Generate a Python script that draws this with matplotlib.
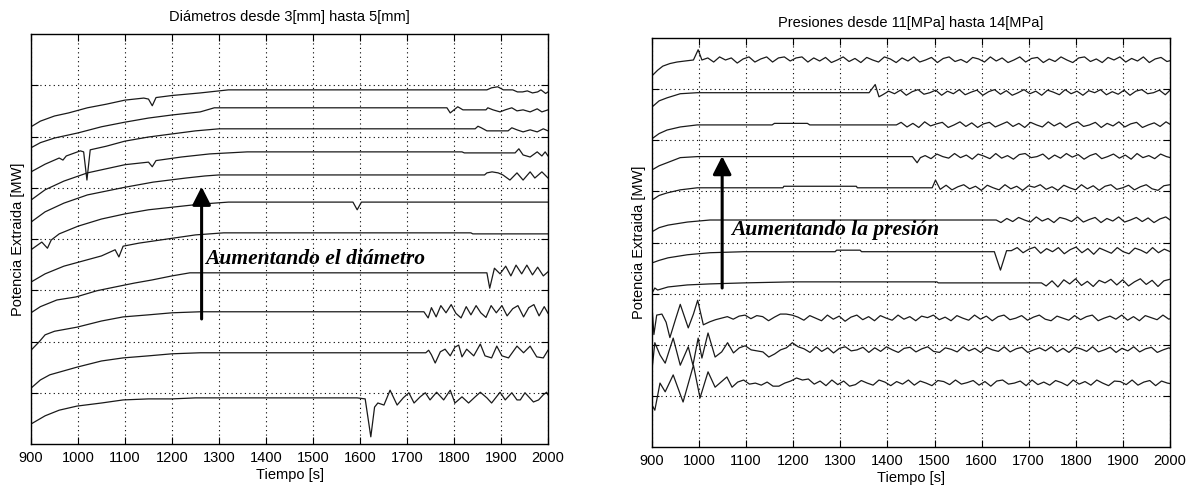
import numpy as np
import matplotlib.pyplot as plt

# ---------------- left panel: diameters 3 mm .. 5 mm (top curve = largest) ----------------
# time [s] and extracted power (arbitrary units, one grid step = 1)
d1_t = [900, 920, 950, 980, 1020, 1060, 1100, 1140, 1150, 1158, 1166, 1200, 1260, 1320, 1870,
        1880, 1893, 1905, 1925, 1935, 1946, 1956, 1967, 1978, 1985, 1995, 2000]
d1_p = [6.19, 6.30, 6.40, 6.46, 6.56, 6.63, 6.71, 6.75, 6.73, 6.60, 6.76, 6.80, 6.85, 6.91, 6.91,
        6.95, 6.97, 6.91, 6.91, 6.87, 6.87, 6.89, 6.85, 6.87, 6.91, 6.84, 6.87]

d2_t = [900, 920, 950, 1000, 1050, 1100, 1150, 1200, 1260, 1290, 1785, 1792, 1808, 1819, 1868,
        1872, 1883, 1898, 1909, 1923, 1934, 1947, 1962, 1977, 1987, 2000]
d2_p = [5.78, 5.88, 5.97, 6.07, 6.19, 6.28, 6.36, 6.42, 6.48, 6.56, 6.56, 6.46, 6.58, 6.52, 6.52,
        6.56, 6.52, 6.48, 6.52, 6.56, 6.50, 6.52, 6.48, 6.54, 6.48, 6.52]

d3_t = [900, 930, 960, 968, 975, 1005, 1012, 1019, 1026, 1060, 1100, 1150, 1200, 1250, 1300,
        1845, 1851, 1858, 1870, 1915, 1923, 1934, 1947, 1962, 1977, 1990, 2000]
d3_p = [5.31, 5.46, 5.58, 5.54, 5.62, 5.72, 5.70, 5.15, 5.74, 5.81, 5.91, 5.99, 6.05, 6.11, 6.15,
        6.15, 6.20, 6.17, 6.11, 6.11, 6.17, 6.13, 6.09, 6.13, 6.09, 6.15, 6.11]

d4_t = [900, 930, 970, 1020, 1100, 1150, 1158, 1166, 1220, 1280, 1360, 1817, 1822, 1930, 1938,
        1947, 1962, 1977, 1987, 1994, 2000]
d4_p = [4.76, 4.96, 5.13, 5.29, 5.45, 5.50, 5.41, 5.53, 5.60, 5.66, 5.70, 5.70, 5.68, 5.68, 5.76,
        5.64, 5.60, 5.70, 5.62, 5.70, 5.62]

d5_t = [900, 930, 970, 1020, 1100, 1160, 1230, 1270, 1300, 1865, 1870, 1881, 1894, 1904, 1919,
        1934, 1947, 1962, 1972, 1987, 2000]
d5_p = [4.33, 4.53, 4.70, 4.86, 5.01, 5.11, 5.19, 5.23, 5.25, 5.25, 5.29, 5.31, 5.29, 5.25, 5.15,
        5.29, 5.15, 5.31, 5.19, 5.31, 5.19]

d6_t = [900, 923, 935, 943, 960, 1000, 1050, 1100, 1150, 1200, 1260, 1320, 1585, 1594, 1603, 2000]
d6_p = [3.79, 3.94, 3.82, 3.98, 4.10, 4.25, 4.39, 4.49, 4.57, 4.62, 4.68, 4.72, 4.72, 4.57, 4.72, 4.72]

d7_t = [900, 930, 970, 1010, 1050, 1079, 1087, 1096, 1130, 1190, 1250, 1310, 1836, 1840, 2000]
d7_p = [3.16, 3.32, 3.47, 3.57, 3.67, 3.79, 3.65, 3.86, 3.92, 4.00, 4.08, 4.12, 4.12, 4.10, 4.10]

d8_t = [900, 920, 955, 996, 1040, 1077, 1120, 1157, 1200, 1238, 1870, 1876, 1886, 1898, 1910,
        1921, 1932, 1944, 1955, 1967, 1978, 1990, 2000]
d8_p = [2.56, 2.68, 2.81, 2.87, 2.99, 3.06, 3.14, 3.20, 3.28, 3.34, 3.34, 3.04, 3.43, 3.32, 3.47,
        3.28, 3.49, 3.32, 3.49, 3.30, 3.45, 3.28, 3.36]

d9_t = [900, 917, 930, 950, 998, 1050, 1096, 1150, 1200, 1260, 1736, 1745, 1752, 1762, 1772,
        1783, 1794, 1804, 1815, 1826, 1836, 1847, 1857, 1868, 1879, 1890, 1902, 1913, 1925, 1936,
        1948, 1959, 1970, 1981, 1992, 2000]
d9_p = [1.83, 1.99, 2.13, 2.20, 2.28, 2.40, 2.48, 2.52, 2.56, 2.58, 2.58, 2.46, 2.66, 2.48, 2.70,
        2.56, 2.72, 2.55, 2.46, 2.68, 2.52, 2.70, 2.56, 2.47, 2.70, 2.56, 2.70, 2.50, 2.64, 2.70,
        2.48, 2.66, 2.72, 2.50, 2.68, 2.55]

d10_t = [900, 920, 940, 998, 1050, 1096, 1150, 1200, 1260, 1740, 1746, 1752, 1760, 1771, 1781,
         1792, 1802, 1810, 1817, 1827, 1842, 1856, 1866, 1880, 1891, 1902, 1916, 1934, 1948, 1962,
         1976, 1990, 2000]
d10_p = [1.09, 1.25, 1.35, 1.50, 1.62, 1.68, 1.72, 1.76, 1.78, 1.78, 1.83, 1.74, 1.58, 1.80, 1.85,
         1.72, 1.89, 1.93, 1.70, 1.85, 1.72, 1.95, 1.72, 1.68, 1.91, 1.72, 1.68, 1.91, 1.78, 1.91,
         1.70, 1.68, 1.83]

d11_t = [900, 930, 960, 998, 1050, 1096, 1150, 1200, 1250, 1594, 1611, 1623, 1631, 1638, 1651,
         1664, 1679, 1692, 1704, 1715, 1728, 1739, 1749, 1763, 1778, 1792, 1802, 1817, 1831, 1845,
         1856, 1870, 1880, 1898, 1909, 1923, 1934, 1941, 1951, 1969, 1980, 1990, 1997, 2000]
d11_p = [0.39, 0.55, 0.66, 0.74, 0.80, 0.86, 0.88, 0.88, 0.90, 0.90, 0.88, 0.14, 0.72, 0.80, 0.76,
         1.05, 0.76, 0.90, 1.00, 0.80, 0.92, 1.00, 0.86, 1.01, 0.86, 1.05, 0.80, 0.92, 0.80, 0.92,
         1.01, 0.90, 0.80, 1.01, 0.86, 1.00, 0.86, 0.86, 1.00, 0.82, 0.86, 0.96, 1.01, 0.96]

# ---------------- right panel: pressures 11 MPa .. 14 MPa ----------------
# start-up part read point by point, then the oscillating tail sampled every ZIG_DT seconds,
# written as deviations (hundredths of a grid step) from the settled level
ZIG_DT = 12.5

p1_t = [900, 912, 923, 938, 953, 970, 988, 998]
p1_p = [7.26, 7.37, 7.45, 7.50, 7.53, 7.55, 7.57, 7.77]
p1_t0, p1_lvl = 1006, 7.57
p1_dev = [0, 4, -4, 6, 0, 4, -6, 2, 6, -4, 2, 6, -4, 4, 6, -2, 4, 6, -4, 4,
          -2, 5, -5, 0, 6, -3, 3, -5, 5, 0, -4, 6, 2, -5, 4, -2, 6, -4, 0, 5,
          -5, 3, 6, -3, 1, -5, 5, 2, -4, 6, -2, 4, -5, 0, 6, -4, 3, 5, -5, 2,
          -3, 6, 0, -5, 4, 6, -3, 2, -5, 5, 0, 6, -4, 3, -2, 6, -5, 2, 5, -3, 0]

p2_t = [900, 915, 932, 960, 996, 1361, 1374, 1382]
p2_p = [6.65, 6.77, 6.83, 6.91, 6.93, 6.93, 7.09, 6.85]
p2_t0, p2_lvl = 1390, 6.93
p2_dev = [-4, 3, -2, 5, -5, 2, 6, -3, 0, 5, -5, 3, -2, 6, -4, 1, 5, -5, 2, 6,
          -3, 4, -5, 0, 6, -2, 3, -5, 5, 1, -4, 6, -2, 3, -5, 4, 0, 6, -4, 2,
          -3, 5, -5, 3, 6, -2, 0, 5, -4, 7]

p3_t = [900, 915, 932, 960, 996, 1155, 1160, 1230, 1235, 1419]
p3_p = [6.03, 6.13, 6.20, 6.26, 6.30, 6.30, 6.33, 6.33, 6.30, 6.30]
p3_t0, p3_lvl = 1429, 6.30
p3_dev = [5, -4, 3, -5, 6, -2, 2, 5, -5, 0, 6, -3, 4, -5, 2, 5, -4, 1, 6, -3,
          3, -5, 5, 0, -4, 6, -2, 4, -5, 2, 6, -3, 0, 5, -5, 3, -2, 6, -4, 2,
          5, -5, 0, 4, -3, 6, -1]

p4_t = [900, 915, 932, 960, 996, 1453, 1463, 1470]
p4_p = [5.42, 5.50, 5.56, 5.66, 5.68, 5.68, 5.56, 5.66]
p4_t0, p4_lvl = 1480, 5.68
p4_dev = [2, -4, 5, 0, -3, 6, -2, 3, -5, 5, 1, -4, 6, -3, 2, -5, 4, 6, -2, 0,
          5, -5, 3, -3, 6, -1, 4, -5, 2, 6, -4, 0, 5, -3, 3, -5, 6, -2, 2, -4,
          5, 0, -3]

p5_t = [900, 915, 932, 960, 996, 1178, 1180, 1334, 1336, 1495, 1502]
p5_p = [4.83, 4.92, 4.97, 5.03, 5.07, 5.07, 5.10, 5.10, 5.07, 5.07, 5.22]
p5_t0, p5_lvl = 1512, 5.07
p5_dev = [-3, 5, -4, 2, 6, -2, 3, -5, 5, 0, -4, 6, -2, 3, -5, 4, 1, 6, -3, 2,
          -5, 5, 0, -4, 6, -2, 4, -5, 3, 6, -3, 0, 5, -4, 2, 6, -2, -5, 4, 6]

p6_t = [900, 915, 934, 975, 1023, 1631]
p6_p = [4.21, 4.29, 4.34, 4.40, 4.44, 4.44]
p6_t0, p6_lvl = 1641, 4.44
p6_dev = [-5, 3, -3, 5, 0, -4, 6, -2, 3, -5, 5, 2, -3, 6, -4, 1, 5, -5, 3, -2,
          6, -4, 0, 5, -3, 4, -5, 2, 6, -2]

p7_t = [900, 915, 934, 975, 1023, 1096, 1289, 1292, 1342, 1345, 1627, 1640, 1653]
p7_p = [3.60, 3.65, 3.70, 3.76, 3.80, 3.82, 3.82, 3.85, 3.85, 3.82, 3.82, 3.46, 3.84]
p7_t0, p7_lvl = 1663, 3.82
p7_dev = [2, 8, -2, 5, 9, -3, 6, 0, 8, -4, 4, 9, -2, 6, -5, 7, 2, -3, 8, 0,
          -4, 7, 3, -3, 8, -2, 5, 0]

p8_t = [900, 906, 912, 934, 975, 1023, 1096, 1200, 1505, 1508, 1727]
p8_p = [3.01, 3.11, 3.07, 3.13, 3.17, 3.19, 3.21, 3.23, 3.23, 3.21, 3.21]
p8_t0, p8_lvl = 1737, 3.21
p8_dev = [-6, 4, -8, 6, -2, 8, -5, 3, -7, 5, 0, 7, -4, 6, -6, 2, 8, -3, 5, -7, 4, 7]

p9_t = [900, 904, 910, 921, 930, 938, 950, 960, 977, 988, 997, 1009, 1023]
p9_p = [2.75, 2.20, 2.58, 2.60, 2.44, 2.14, 2.50, 2.79, 2.33, 2.60, 2.87, 2.39, 2.45]
p9_t0, p9_lvl = 1035, 2.52
p9_dev = [-3, 0, 3, -2, 4, 6, -1, 5, 3, -5, 2, 8, 8, 6, 2, -4, 5, 0, -5, 6,
          -2, 4, -6, 2, 6, -3, 3, -5, 5, 0, -4, 6, -2, 3, -5, 4, 1, 6, -3, 2,
          -5, 5, 0, -4, 6, -2, 4, -5, 3, 6, -3, 0, 5, -4, 2, 6, -2, -5, 4, 0,
          -4, 5, -3, 3, 6, -5, 0, 4, -2, 6, -4, 3, -5, 5, 1, -3, 6, -2, 2]

p10_t = [900, 906, 917, 928, 945, 960, 977, 987, 998, 1006, 1019, 1034]
p10_p = [1.51, 2.04, 1.80, 1.64, 2.13, 1.60, 1.96, 1.60, 2.13, 1.74, 2.23, 1.76]
p10_t0, p10_lvl = 1048, 1.90
p10_dev = [-4, 14, -6, 4, 8, 0, -2, -4, -14, -8, 0, 4, 14, 6, 2, -5, 6, -3, 4, -6,
           3, 6, -2, 0, 5, -5, 4, -3, 6, 0, -5, 3, 5, -4, 2, 6, -3, -5, 4, 1,
           -4, 6, -2, 3, -5, 5, 0, -3, 6, -4, 2, 5, -5, 0, 4, -2, 6, -4, 3, -5,
           5, 2, -3, 6, -4, 0, 5, -5, 3, -2, 6, -4, 2, 5, -5, 0, 4, -3]

p11_t = [900, 906, 917, 928, 945, 966, 988, 1002, 1019, 1034, 1059, 1070]
p11_p = [0.82, 0.72, 1.25, 1.08, 1.41, 0.88, 1.60, 0.96, 1.47, 1.17, 1.37, 1.17]
p11_t0, p11_lvl = 1082, 1.25
p11_dev = [2, 6, -2, 0, -4, 2, -6, -6, 0, 4, 10, 6, 8, -2, 4, -5, 6, -3, 4, -6,
           -3, 5, 0, -4, 6, 2, -5, 3, -2, 6, -4, 4, 0, -5, 5, 3, -3, 6, -2, 1,
           5, -4, 3, -6, 4, 6, -2, 0, 4, -5, 6, -3, 2, -4, 5, 1, -5, 6, -2, 3,
           -4, 6, 0, -5, 4, 3, -3, 6, -4, 2, 5, -5, 4, 0, -2]

left_curves = [(d1_t, d1_p), (d2_t, d2_p), (d3_t, d3_p), (d4_t, d4_p), (d5_t, d5_p),
               (d6_t, d6_p), (d7_t, d7_p), (d8_t, d8_p), (d9_t, d9_p), (d10_t, d10_p),
               (d11_t, d11_p)]
right_curves = [(p1_t, p1_p, p1_t0, p1_lvl, p1_dev), (p2_t, p2_p, p2_t0, p2_lvl, p2_dev),
                (p3_t, p3_p, p3_t0, p3_lvl, p3_dev), (p4_t, p4_p, p4_t0, p4_lvl, p4_dev),
                (p5_t, p5_p, p5_t0, p5_lvl, p5_dev), (p6_t, p6_p, p6_t0, p6_lvl, p6_dev),
                (p7_t, p7_p, p7_t0, p7_lvl, p7_dev), (p8_t, p8_p, p8_t0, p8_lvl, p8_dev),
                (p9_t, p9_p, p9_t0, p9_lvl, p9_dev), (p10_t, p10_p, p10_t0, p10_lvl, p10_dev),
                (p11_t, p11_p, p11_t0, p11_lvl, p11_dev)]

SANS = 'Liberation Sans'
SERIF = 'Liberation Serif'
FS = 10.5
LINE = dict(color='#1a1a1a', lw=0.9)


def style_axes(ax, title, pad):
    ax.set_xlim(900, 2000)
    ax.set_ylim(0, 8)
    ax.set_xticks(range(900, 2001, 100))
    ax.set_yticks(range(1, 8))
    ax.set_yticklabels([])
    ax.grid(True, linestyle=(0, (1, 3)), color='k', lw=0.8)
    ax.tick_params(direction='in', top=True, right=True, length=5, width=0.8,
                   labelsize=FS, pad=5)
    for lab in ax.get_xticklabels():
        lab.set_family(SANS)
    for s in ax.spines.values():
        s.set_linewidth(1.0)
    ax.set_xlabel('Tiempo [s]', family=SANS, fontsize=FS, labelpad=2)
    ax.set_ylabel('Potencia Extraida [MW]', family=SANS, fontsize=FS, labelpad=-1)
    ax.set_title(title, family=SANS, fontsize=FS, pad=pad)


def draw_arrow(ax, x, y0, y1):
    ax.annotate('', xy=(x, y1), xytext=(x, y0),
                arrowprops=dict(arrowstyle='-|>,head_length=0.55,head_width=0.28',
                                mutation_scale=20, lw=2.2, color='k',
                                shrinkA=0, shrinkB=0))


fig = plt.figure(figsize=(11.95, 4.88), dpi=100)
axL = fig.add_axes([31 / 1195, 1 - 444 / 488, 517 / 1195, 410 / 488])
axR = fig.add_axes([652 / 1195, 1 - 447 / 488, 518 / 1195, 409 / 488])

# left panel
for t, p in left_curves:
    axL.plot(t, p, **LINE)
style_axes(axL, 'Diámetros desde 3[mm] hasta 5[mm]', 9)
draw_arrow(axL, 1263, 2.44, 5.02)
axL.text(1270, 3.61, 'Aumentando el diámetro', family=SERIF, weight='bold',
         style='italic', fontsize=15.5, ha='left', va='center')

# right panel
for t, p, t0, lvl, dev in right_curves:
    tz = t0 + ZIG_DT * np.arange(len(dev))
    pz = lvl + np.array(dev) / 100.0
    axR.plot(list(t) + list(tz), list(p) + list(pz), **LINE)
style_axes(axR, 'Presiones desde 11[MPa] hasta 14[MPa]', 8)
draw_arrow(axR, 1049, 3.11, 5.69)
axR.text(1068, 4.25, 'Aumentando la presión', family=SERIF, weight='bold',
         style='italic', fontsize=15.5, ha='left', va='center')

fig.savefig('out.png', dpi=100)
